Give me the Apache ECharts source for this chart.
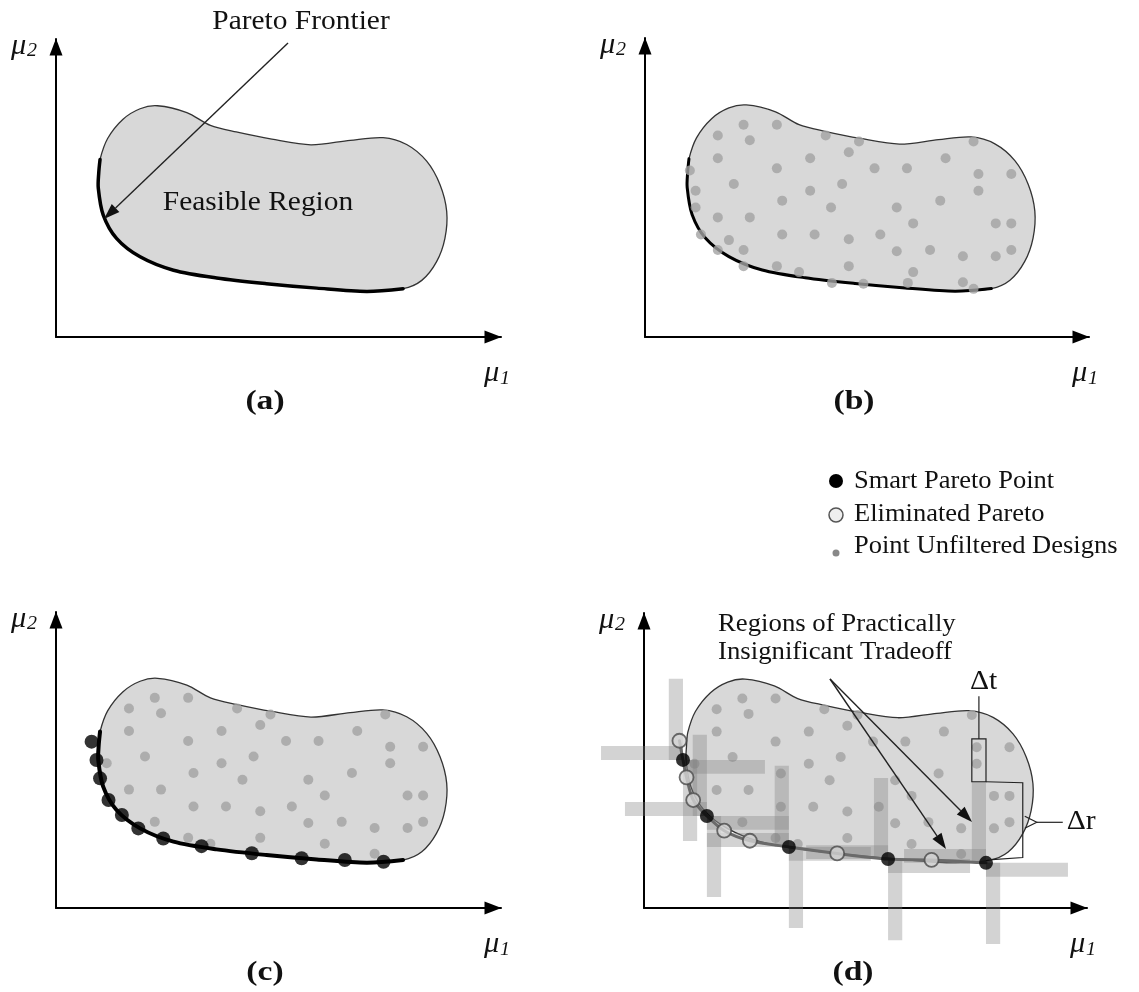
<!DOCTYPE html>
<html>
<head>
<meta charset="utf-8">
<title>Pareto frontier and smart Pareto filtering</title>
<script src="https://cdn.jsdelivr.net/npm/echarts@6.0.0/dist/echarts.min.js"></script>
<style>
  html, body { margin: 0; padding: 0; background: #ffffff; }
  #chart { width: 1139px; height: 992px; }
</style>
</head>
<body>
<div id="chart"></div>
<script>
// Objective space (mu1, mu2) is normalised to 0..100 on both axes; 100 sits at the arrow tip.

// Lower-left boundary of the feasible region = Pareto frontier (top to bottom)
const frontierU = [9.9, 9.6, 9.5, 10.6, 13.6, 18.9, 26.4, 36.1, 47.3, 58.6, 69.8, 78.0];
const frontierV = [59.6, 55.0, 50.0, 41.0, 33.1, 26.9, 22.4, 19.8, 17.9, 16.4, 15.3, 16.2];

// Rest of the region boundary, from the frontier end round to its start
const upperU = [82.2, 85.5, 87.4, 87.8, 86.3, 83.3, 78.8, 73.5, 66.1, 57.3, 48.5, 40.5, 34.7, 29.4, 22.8, 18.9, 15.0, 11.6];
const upperV = [19.0, 25.2, 33.1, 42.1, 51.1, 59.0, 64.6, 66.9, 66.0, 64.5, 66.4, 68.8, 71.0, 75.3, 77.6, 76.6, 73.0, 66.6];

// Unfiltered designs inside the feasible region
const designU = [22.2, 29.7, 16.4, 23.6, 40.7, 48.2, 74.0, 45.9, 16.4, 37.2, 67.7, 29.7, 51.7, 59.0, 75.1,
                 82.5, 20.0, 44.4, 37.2, 75.1, 11.4, 30.9, 66.5, 41.9, 56.7, 16.4, 23.6, 60.4, 79.0, 82.5,
                 30.9, 38.2, 53.0, 45.9, 22.2, 56.7, 64.2, 71.6, 79.0, 82.5, 29.7, 34.7, 45.9, 60.4, 71.6];
const designV = [71.0, 71.0, 67.4, 65.8, 67.4, 65.4, 65.4, 61.8, 59.8, 59.8, 59.8, 56.4, 56.4, 56.4, 54.5,
                 54.5, 51.2, 51.2, 48.9, 48.9, 48.9, 45.6, 45.6, 43.3, 43.3, 40.0, 40.0, 38.0, 38.0, 38.0,
                 34.3, 34.3, 34.3, 32.7, 29.1, 28.7, 29.1, 27.0, 27.0, 29.1, 23.7, 21.7, 23.7, 21.7, 18.3];

// Designs lying on the frontier (plain grey designs in panel b)
const edgeDesignU = [10.1, 11.4, 12.6, 18.9, 16.4, 22.2, 42.1, 49.2, 59.2, 74.0];
const edgeDesignV = [55.7, 43.3, 34.3, 32.4, 29.1, 23.7, 18.1, 17.8, 18.1, 16.1];

// Pareto points of panel c
const paretoU = [8.0, 9.1, 9.9, 11.8, 14.8, 18.5, 24.1, 32.7, 44.0, 55.2, 64.9, 73.6];
const paretoV = [56.2, 50.0, 43.8, 36.5, 31.4, 26.9, 23.5, 20.9, 18.5, 16.8, 16.2, 15.6];

// Smart Pareto points and eliminated Pareto points of panel d
const smartU = [8.8, 14.2, 32.7, 55.1, 77.2];
const smartV = [50.2, 31.2, 20.7, 16.6, 15.3];
const eliminatedU = [8.0, 9.6, 11.1, 18.1, 23.9, 43.6, 64.9];
const eliminatedV = [56.7, 44.3, 36.6, 26.2, 22.8, 18.5, 16.3];

const panelLabels = ['(a)', '(b)', '(c)', '(d)'];
const legendLabels = ['Smart Pareto Point', 'Eliminated Pareto', 'Point Unfiltered Designs'];
const regionNote = ['Regions of Practically', 'Insignificant Tradeoff'];

// ---------------------------------------------------------------- layout
const frames = [
  { left: 56,  top: 39,  width: 445, height: 298 },
  { left: 645, top: 38,  width: 444, height: 299 },
  { left: 56,  top: 612, width: 445, height: 296 },
  { left: 644, top: 613, width: 443, height: 295 }
];
const SERIF = '"Liberation Serif", "Times New Roman", serif';
// extents of the tradeoff bands around each smart point (axis units)
const ARM_U = 18.5, ARM_V = 27.5, BAND_U = 3.2, BAND_V = 4.7;
const DOT = '#a2a2a2';

const zip = (u, v) => u.map((x, i) => [x, v[i]]);
const blobPts = zip(frontierU.concat(upperU), frontierV.concat(upperV));
const frontierPts = zip(frontierU, frontierV);
const designPts = zip(designU, designV);
const edgePts = zip(edgeDesignU, edgeDesignV);
const paretoPts = zip(paretoU, paretoV);
const smartPts = zip(smartU, smartV);
const eliminatedPts = zip(eliminatedU, eliminatedV);
const dFrontPts = smartPts.concat(eliminatedPts).sort((a, b) => a[0] - b[0]);

function axis(i) {
  return {
    gridIndex: i, type: 'value', min: 0, max: 100,
    axisLine: {
      show: true, onZero: false,
      symbol: ['none', 'triangle'], symbolSize: [13, 17], symbolOffset: [0, -8],
      lineStyle: { color: '#000', width: 2 }
    },
    axisTick: { show: false }, axisLabel: { show: false }, splitLine: { show: false }
  };
}

function regionSeries(i) {
  return {
    type: 'custom', name: 'Feasible Region', xAxisIndex: i, yAxisIndex: i,
    data: [[0, 0]], clip: false, silent: true, z: 1,
    renderItem: (p, api) => ({
      type: 'polygon',
      shape: { points: blobPts.map(q => api.coord(q)), smooth: 0.3 },
      style: { fill: '#d8d8d8', stroke: '#333', lineWidth: 1.3 }
    })
  };
}

function curveSeries(i, pts, color, width, z) {
  return {
    type: 'custom', xAxisIndex: i, yAxisIndex: i, data: [[0, 0]], clip: false, silent: true, z,
    renderItem: (p, api) => ({
      type: 'polyline',
      shape: { points: pts.map(q => api.coord(q)), smooth: 0.3 },
      style: { fill: null, stroke: color, lineWidth: width, lineCap: 'round', lineJoin: 'round' }
    })
  };
}

function dotSeries(i, pts, size, itemStyle, z) {
  return {
    type: 'scatter', xAxisIndex: i, yAxisIndex: i, data: pts, symbol: 'circle',
    symbolSize: size, itemStyle, silent: true, z
  };
}

// Cross-shaped bands of practically insignificant tradeoff around each smart point
function bandSeries(i) {
  return {
    type: 'custom', xAxisIndex: i, yAxisIndex: i, data: smartPts, clip: false, silent: true, z: 4,
    renderItem: (p, api) => {
      const u = api.value(0), v = api.value(1);
      const box = (u0, v0, u1, v1) => {
        const a = api.coord([u0, v0]), b = api.coord([u1, v1]);
        return {
          type: 'rect',
          shape: { x: Math.min(a[0], b[0]), y: Math.min(a[1], b[1]), width: Math.abs(b[0] - a[0]), height: Math.abs(b[1] - a[1]) },
          style: { fill: 'rgba(128,128,128,0.35)' }
        };
      };
      return {
        type: 'group', children: [
          box(u - BAND_U, v, u, v + ARM_V),
          box(u, v - ARM_V, u + BAND_U, v),
          box(u - ARM_U, v, u, v + BAND_V),
          box(u, v - BAND_V, u + ARM_U, v)
        ]
      };
    }
  };
}

// Delta-t / Delta-r callouts on the last smart point
function spreadSeries(i) {
  const last = smartPts[smartPts.length - 1];
  return {
    type: 'custom', xAxisIndex: i, yAxisIndex: i, data: [last], clip: false, silent: true, z: 8,
    renderItem: (p, api) => {
      const u = api.value(0), v = api.value(1);
      const c = q => api.coord(q);
      const boxTop = c([u - BAND_U, v + ARM_V + 14.5]);
      const boxBot = c([u, v + ARM_V]);
      const midX = (boxTop[0] + boxBot[0]) / 2;
      const stemTop = c([u, v + ARM_V + 29])[1];
      const rx = c([u + 8.3, v])[0];
      const topY = boxBot[1];
      const botA = c([u + 8.3, v + 1.8]);
      const botB = c([u + 0.6, v + 1.0]);
      const midY = c([u, v + ARM_V / 2])[1];
      const ink = { stroke: '#222', lineWidth: 1.2, fill: null };
      return {
        type: 'group', children: [
          { type: 'rect', shape: { x: boxTop[0], y: boxTop[1], width: boxBot[0] - boxTop[0], height: boxBot[1] - boxTop[1] }, style: ink },
          { type: 'line', shape: { x1: midX, y1: boxTop[1], x2: midX, y2: stemTop }, style: ink },
          { type: 'text', x: midX - 9, y: stemTop - 1, scaleX: 1.1,
            style: { text: 'Δt', fill: '#111', fontSize: 27, fontFamily: SERIF, align: 'left', verticalAlign: 'bottom' } },
          { type: 'polyline', shape: { points: [[boxBot[0], topY], [rx, topY + 1], [rx, botA[1]], botB] }, style: ink },
          { type: 'polyline', shape: { points: [[rx + 2, midY - 6], [rx + 14, midY], [rx + 2, midY + 6]] }, style: ink },
          { type: 'line', shape: { x1: rx + 14, y1: midY, x2: rx + 40, y2: midY }, style: ink },
          { type: 'text', x: rx + 44, y: midY, scaleX: 1.1,
            style: { text: 'Δr', fill: '#111', fontSize: 27, fontFamily: SERIF, align: 'left', verticalAlign: 'middle' } }
        ]
      };
    }
  };
}

const series = [];
frames.forEach((f, i) => series.push(regionSeries(i)));
// (a) region and frontier
series.push(curveSeries(0, frontierPts, '#000', 3.5, 5));
// (b) all designs, frontier under the dots
series.push(curveSeries(1, frontierPts, '#000', 3, 2));
series.push(dotSeries(1, designPts.concat(edgePts), 10, { color: DOT }, 3));
// (c) designs with the Pareto points
series.push(dotSeries(2, designPts, 10, { color: DOT }, 3));
series.push(curveSeries(2, frontierPts, '#000', 4, 5));
series.push(dotSeries(2, paretoPts, 14, { color: '#000' }, 6));
// (d) smart filtering
series.push(dotSeries(3, designPts, 10, { color: DOT }, 3));
series.push(bandSeries(3));
series.push(curveSeries(3, dFrontPts, '#6a6a6a', 3, 5));
series.push(dotSeries(3, eliminatedPts, 14, { color: '#d4d4d4', borderColor: '#4a4a4a', borderWidth: 1.8 }, 6));
series.push(dotSeries(3, smartPts, 14, { color: '#000' }, 6));
series.push(spreadSeries(3));

// ---------------------------------------------------------------- text & callouts
function text(x, y, s, size, o = {}) {
  return {
    type: 'text', x, y, scaleX: o.sx || 1.08, z: 100, silent: true,
    style: {
      text: s, fill: '#111', fontSize: size, fontFamily: SERIF,
      fontStyle: o.italic ? 'italic' : 'normal', fontWeight: o.bold ? 'bold' : 'normal',
      align: o.align || 'center', verticalAlign: o.va || 'middle',
      textAlign: o.align || 'center', textVerticalAlign: o.va || 'middle'
    }
  };
}
function arrow(x0, y0, x1, y1) {
  const dx = x1 - x0, dy = y1 - y0, L = Math.hypot(dx, dy), ux = dx / L, uy = dy / L;
  const head = 16, w = 11;
  const bx = x1 - ux * head, by = y1 - uy * head;
  return [
    { type: 'line', z: 100, silent: true, shape: { x1: x0, y1: y0, x2: bx, y2: by }, style: { stroke: '#222', lineWidth: 1.4 } },
    { type: 'polygon', z: 100, silent: true,
      shape: { points: [[x1, y1], [bx - uy * w / 2, by + ux * w / 2], [bx + uy * w / 2, by - ux * w / 2]] },
      style: { fill: '#111' } }
  ];
}

const graphic = [];
frames.forEach((f, i) => {
  const tipX = f.left + f.width, baseY = f.top + f.height;
  graphic.push(text(tipX - 17, baseY + 36, 'μ', 29, { italic: true, align: 'left', sx: 1.05 }));
  graphic.push(text(tipX - 1, baseY + 42, '1', 19, { italic: true, align: 'left', sx: 1.05 }));
  graphic.push(text(f.left - 45, f.top + 7, 'μ', 29, { italic: true, align: 'left', sx: 1.05 }));
  graphic.push(text(f.left - 29, f.top + 12, '2', 19, { italic: true, align: 'left', sx: 1.05 }));
  graphic.push(text(f.left + 209, baseY + 65, panelLabels[i], 28, { bold: true, sx: 1.2 }));
});

// (a) annotations
graphic.push(text(301, 22, 'Pareto Frontier', 27, { sx: 1.09 }));
graphic.push(text(258, 203, 'Feasible Region', 27, { sx: 1.09 }));
graphic.push(...arrow(288, 43, 104, 219));

// legend
graphic.push({ type: 'circle', z: 100, shape: { cx: 836, cy: 481, r: 7 }, style: { fill: '#000' } });
graphic.push({ type: 'circle', z: 100, shape: { cx: 836, cy: 515, r: 7 }, style: { fill: '#eeeeee', stroke: '#555', lineWidth: 1.5 } });
graphic.push({ type: 'circle', z: 100, shape: { cx: 836, cy: 553, r: 3.5 }, style: { fill: '#888' } });
legendLabels.forEach((s, k) => graphic.push(text(854, [481, 514, 546][k], s, 25, { align: 'left', sx: 1.06 })));

// (d) note with its two arrows
graphic.push(text(718, 624, regionNote[0], 25, { align: 'left', sx: 1.07 }));
graphic.push(text(718, 652, regionNote[1], 25, { align: 'left', sx: 1.07 }));
graphic.push(...arrow(830, 679, 972, 822));
graphic.push(...arrow(830, 679, 946, 849));

const chart = echarts.init(document.getElementById('chart'), null, { renderer: 'canvas' });
chart.setOption({
  backgroundColor: '#ffffff',
  animation: false,
  grid: frames.map(f => Object.assign({ containLabel: false, outerBoundsMode: 'none' }, f)),
  xAxis: frames.map((f, i) => axis(i)),
  yAxis: frames.map((f, i) => axis(i)),
  series,
  graphic
});
</script>
</body>
</html>
